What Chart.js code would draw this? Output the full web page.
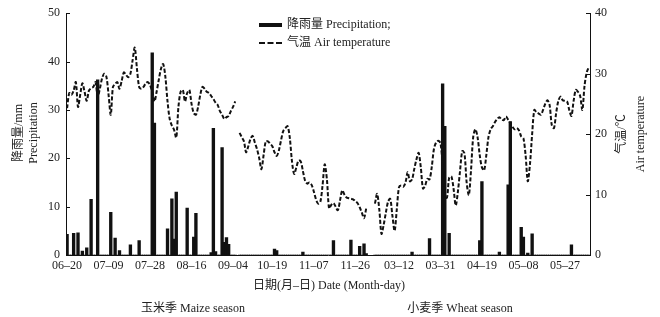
<!DOCTYPE html>
<html>
<head>
<meta charset="utf-8">
<title>Precipitation and air temperature</title>
<script src="https://cdn.jsdelivr.net/npm/chart.js"></script>
<style>
  body { margin: 0; background: #fff; font-family: 'Liberation Serif', 'Noto Sans CJK SC', serif; color: #222; }
  .wrap { position: relative; width: 660px; height: 317px; overflow: hidden; }
  canvas { position: absolute; left: 0; top: 0; }
  .txt { position: absolute; font-size: 12px; line-height: 1; white-space: nowrap; transform: translate(-50%, -50%); }
  .vert { transform: translate(-50%, -50%) rotate(-90deg); }
  .legend { position: absolute; left: 259px; top: 15px; font-size: 12px; line-height: 18px; }
  .legend .sw { display: inline-block; width: 23px; margin-right: 5px; vertical-align: middle; }
  .legend .bar { height: 4px; background: #111; }
  .legend .dash { height: 0; border-top: 2px dashed #111; }
</style>
</head>
<body>
<div class="wrap">
  <canvas id="chart" width="660" height="317"></canvas>

  <div class="legend">
    <div><span class="sw bar"></span>降雨量 Precipitation;</div>
    <div><span class="sw dash"></span>气温 Air temperature</div>
  </div>

  <div class="txt vert" style="left:18px; top:133px">降雨量/mm</div>
  <div class="txt vert" style="left:33px; top:133px">Precipitation</div>
  <div class="txt vert" style="left:621px; top:134px">气温/℃</div>
  <div class="txt vert" style="left:640px; top:134px">Air temperature</div>

  <div class="txt" style="left:329px; top:285px">日期(月–日) Date (Month-day)</div>
  <div class="txt" style="left:193px; top:308px">玉米季 Maize season</div>
  <div class="txt" style="left:460px; top:308px">小麦季 Wheat season</div>
</div>

<script>
// date ranges of the three observation blocks (month-day)
const maizeDays = ['06-20', '09-05'];
const autumnDays = ['10-04', '12-01'];
const springDays = ['03-01', '06-07'];

// dates shown on the x axis
const tickDates = ['06-20', '07-09', '07-28', '08-16', '09-04', '10-19', '11-07',
                   '11-26', '03-12', '03-31', '04-19', '05-08', '05-27'];

// daily mean air temperature (°C), one value per day of each block
const tempMaize = [
  24.3, 26.8, 26.5, 27.2, 28.6, 24.5, 26.5, 28.4, 27.0, 25.5,
  27.2, 27.6, 27.8, 28.6, 26.2, 27.5, 29.2, 30.0, 29.5, 26.5,
  23.2, 27.8, 28.3, 28.6, 27.5, 28.8, 30.2, 29.8, 29.4, 30.0,
  32.2, 34.3, 30.8, 27.8, 27.5, 27.8, 28.4, 28.6, 28.1, 27.0,
  25.4, 27.0, 29.0, 30.8, 31.6, 29.5, 25.4, 22.5, 21.4, 20.7,
  19.4, 24.5, 27.0, 27.3, 25.4, 26.8, 27.3, 25.0, 23.5, 23.2,
  24.5, 26.5, 27.8, 27.5, 27.0, 26.8, 26.3, 25.8, 25.2, 24.8,
  23.8, 23.2, 22.5, 22.8, 23.0, 23.8, 24.5, 25.4
];
const tempAutumn = [
  20.2, 19.5, 18.8, 17.0, 18.0, 19.2, 19.7, 18.6, 17.5, 16.0,
  14.2, 16.5, 18.8, 18.8, 18.4, 18.0, 17.0, 16.4, 17.3, 19.0,
  20.5, 21.0, 21.3, 19.4, 15.5, 13.4, 14.5, 15.6, 15.5, 13.9,
  12.3, 11.8, 12.0, 11.6, 10.5, 9.2, 8.5, 8.8, 11.5, 15.0,
  12.5, 7.7, 8.3, 8.6, 8.0, 7.4, 9.0, 10.7, 10.0, 9.5,
  9.4, 9.3, 9.2, 8.9, 8.6, 7.9, 7.0, 6.1, 7.7
];
const tempSpring = [
  8.5, 10.1, 7.5, 3.5, 5.0, 7.0, 8.8, 9.3, 6.5, 4.0,
  7.5, 11.2, 11.5, 11.3, 12.0, 13.7, 12.2, 12.5, 14.2, 15.8,
  16.9, 14.5, 11.0, 11.5, 12.6, 12.5, 14.5, 17.5, 18.6, 18.9,
  18.5, 15.0, 9.5, 9.5, 12.8, 13.0, 11.0, 8.2, 10.5, 14.0,
  17.2, 16.8, 12.0, 9.9, 14.0, 19.5, 20.8, 19.5, 16.5, 14.5,
  14.0, 16.5, 19.5, 20.8, 21.3, 22.0, 22.5, 22.8, 22.4, 22.3,
  22.9, 22.4, 21.8, 21.2, 20.8, 21.0, 20.6, 19.6, 19.3, 16.5,
  12.2, 15.0, 20.0, 24.0, 23.6, 23.4, 23.2, 24.0, 25.0, 25.6,
  24.8, 21.5, 21.0, 23.5, 25.5, 26.2, 25.6, 25.5, 25.4, 24.0,
  23.0, 25.5, 27.3, 27.0, 26.3, 24.0, 28.0, 30.2, 31.1
];

// rainy days and daily precipitation (mm); all other days are 0
const rainDates = [
  '06-20', '06-23', '06-25', '06-27', '06-29', '07-01', '07-04', '07-10', '07-12', '07-14',
  '07-19', '07-23', '07-29', '07-30', '08-05', '08-07', '08-08', '08-09', '08-14', '08-17',
  '08-18', '08-25', '08-26', '08-27', '08-30', '08-31', '09-01', '09-02',
  '10-20', '10-21', '11-02', '11-16', '11-24', '11-28', '11-30', '12-01',
  '03-18', '03-26', '04-01', '04-02', '04-04', '04-18', '04-19', '04-27', '05-01', '05-02',
  '05-07', '05-08', '05-10', '05-12', '05-30'
];
const rainMm = [
  4.3, 4.5, 4.6, 0.8, 1.5, 11.5, 36.2, 8.8, 3.5, 0.9,
  2.1, 3.0, 41.8, 27.3, 5.4, 11.6, 3.3, 13.0, 9.7, 3.7,
  8.6, 0.5, 26.2, 0.7, 22.2, 2.6, 3.6, 2.2,
  1.2, 0.9, 0.6, 3.0, 3.1, 1.8, 2.3, 0.3,
  0.6, 3.4, 35.4, 26.6, 4.5, 3.0, 15.2, 0.6, 14.5, 27.6,
  5.7, 3.7, 0.4, 4.4, 2.1
];

function dayRange(range) {
  const [m0, d0] = range[0].split('-').map(Number);
  const [m1, d1] = range[1].split('-').map(Number);
  const out = [];
  const t = new Date(Date.UTC(2001, m0 - 1, d0));
  const end = new Date(Date.UTC(2001, m1 - 1, d1));
  while (t <= end) {
    out.push(String(t.getUTCMonth() + 1).padStart(2, '0') + '-' + String(t.getUTCDate()).padStart(2, '0'));
    t.setUTCDate(t.getUTCDate() + 1);
  }
  return out;
}

// blank categories mark the breaks between blocks
const labels = [...dayRange(maizeDays), '',
                ...dayRange(autumnDays), ' ', '  ', '   ',
                ...dayRange(springDays)];
const temps = [...tempMaize, null, ...tempAutumn, null, null, null, ...tempSpring];
const rain = labels.map(d => {
  if (d.trim() === '') return null;
  const k = rainDates.indexOf(d);
  return k >= 0 ? rainMm[k] : 0;
});

const serif = "'Liberation Serif', 'Times New Roman', serif";

// small tick marks pointing into the plot, as in the original figure
const innerTicks = {
  id: 'innerTicks',
  afterDraw(chart) {
    const ctx = chart.ctx;
    ctx.save();
    ctx.strokeStyle = '#111';
    ctx.lineWidth = 1;
    ['y', 'y1'].forEach(id => {
      const s = chart.scales[id];
      const x0 = id === 'y' ? chart.chartArea.left : chart.chartArea.right;
      const dir = id === 'y' ? 1 : -1;
      s.ticks.forEach(t => {
        const y = Math.round(s.getPixelForValue(t.value)) + 0.5;
        ctx.beginPath();
        ctx.moveTo(x0, y);
        ctx.lineTo(x0 + dir * 4, y);
        ctx.stroke();
      });
    });
    ctx.restore();
  }
};

new Chart(document.getElementById('chart'), {
  type: 'bar',
  data: {
    labels: labels,
    datasets: [
      {
        type: 'line',
        label: '气温 Air temperature',
        data: temps,
        yAxisID: 'y1',
        borderColor: '#111',
        borderWidth: 2,
        borderDash: [4, 2],
        pointRadius: 0,
        tension: 0.3,
        spanGaps: false,
        order: 1
      },
      {
        type: 'bar',
        label: '降雨量 Precipitation',
        data: rain,
        yAxisID: 'y',
        backgroundColor: '#111',
        barThickness: 2.7,
        order: 2
      }
    ]
  },
  options: {
    responsive: false,
    animation: false,
    layout: { padding: { top: 10 } },
    plugins: { legend: { display: false }, tooltip: { enabled: false } },
    scales: {
      x: {
        grid: { display: false, drawTicks: false },
        border: { color: '#111' },
        afterBuildTicks: s => {
          s.ticks = s.ticks.filter(t => tickDates.includes(labels[t.value]));
        },
        afterFit: s => { s.height = 62; },
        ticks: {
          autoSkip: false, maxRotation: 0, minRotation: 0, padding: 4,
          color: '#222', font: { family: serif, size: 12 },
          callback: function (v) { return this.getLabelForValue(v).replace('-', '–'); }
        }
      },
      y: {
        position: 'left', min: 0, max: 50,
        grid: { display: false, drawTicks: false },
        border: { color: '#111' },
        afterFit: s => { s.width = 66; },
        ticks: { stepSize: 10, padding: 6, color: '#222', font: { family: serif, size: 12 } }
      },
      y1: {
        position: 'right', min: 0, max: 40,
        grid: { display: false, drawTicks: false },
        border: { color: '#111' },
        afterFit: s => { s.width = 70; },
        ticks: { stepSize: 10, padding: 5, color: '#222', font: { family: serif, size: 12 } }
      }
    }
  },
  plugins: [innerTicks]
});
</script>
</body>
</html>
